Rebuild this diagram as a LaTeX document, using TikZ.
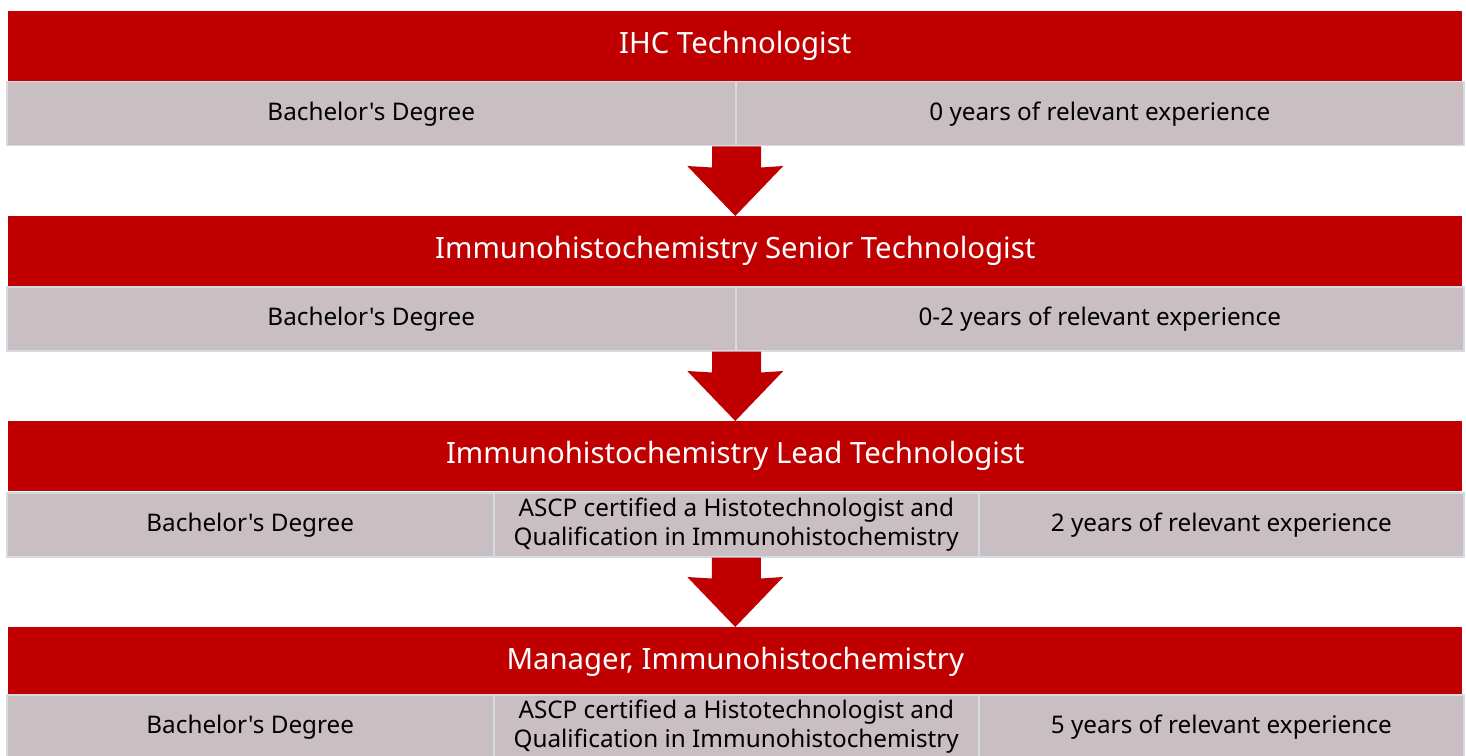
\documentclass[tikz,border=0pt]{standalone}
\usepackage{fontspec}
\newfontfamily\diagfont{Noto Sans}
\usetikzlibrary{calc}
\definecolor{bandred}{RGB}{192,0,0}
\definecolor{cellgray}{RGB}{201,190,194}
\definecolor{cellline}{RGB}{214,218,226}
\tikzset{
  titlebox/.style={fill=bandred, draw=none, text=white, anchor=north west, inner sep=0pt,
    minimum height=70*0.75pt, font=\diagfont\fontsize{22}{26}\selectfont},
  cellbox/.style={fill=cellgray, draw=cellline, line width=1.5pt*0.75, anchor=north west, inner sep=0pt,
    minimum height=64*0.75pt, align=center, text=black, font=\diagfont\fontsize{18.2}{21.8}\selectfont},
  blockarrow/.style={fill=bandred, draw=none}
}
\newcommand{\mkcell}[5]{\node[cellbox, minimum width={(#3-#2)*0.75pt}] (#1) at (#2,#4) {#5};}
\newcommand{\mkarrow}[2]{\fill[blockarrow] ($(#1.south)+(-24.5,0)$) -- ($(#1.south)+(-24.5,21)$) -- ($(#2.north)+(-48,-50)$) -- (#2.north) -- ($(#2.north)+(48,-50)$) -- ($(#1.south)+(24.5,21)$) -- ($(#1.south)+(24.5,0)$) -- cycle;}
\begin{document}
\begin{tikzpicture}[x=0.75pt,y=-0.75pt]
\useasboundingbox (0,0) rectangle (1466,756);
% row 1
\node[titlebox, minimum width=1454*0.75pt] (t1) at (8,11) {IHC Technologist};
\mkcell{c11}{6}{735}{81}{Bachelor's Degree}
\mkcell{c12}{735}{1463}{81}{0 years of relevant experience}
% row 2
\node[titlebox, minimum width=1454*0.75pt] (t2) at (8,216) {Immunohistochemistry Senior Technologist};
\mkcell{c21}{6}{735}{286}{Bachelor's Degree}
\mkcell{c22}{735}{1463}{286}{0-2 years of relevant experience}
% row 3
\node[titlebox, minimum width=1454*0.75pt] (t3) at (8,421) {Immunohistochemistry Lead Technologist};
\mkcell{c31}{6}{493}{492}{Bachelor's Degree}
\mkcell{c32}{493}{978}{492}{ASCP certified a Histotechnologist and\\Qualification in Immunohistochemistry}
\mkcell{c33}{978}{1463}{492}{2 years of relevant experience}
% row 4
\node[titlebox, minimum width=1454*0.75pt] (t4) at (8,627) {Manager, Immunohistochemistry};
\mkcell{c41}{6}{493}{694}{Bachelor's Degree}
\mkcell{c42}{493}{978}{694}{ASCP certified a Histotechnologist and\\Qualification in Immunohistochemistry}
\mkcell{c43}{978}{1463}{694}{5 years of relevant experience}
% arrows
\coordinate (g1) at (c11.south east);
\coordinate (g2) at (c21.south east);
\coordinate (g3) at ($(c32.south west)!0.5!(c32.south east)$);
\mkarrow{g1}{t2}
\mkarrow{g2}{t3}
\mkarrow{g3}{t4}
\end{tikzpicture}
\end{document}
